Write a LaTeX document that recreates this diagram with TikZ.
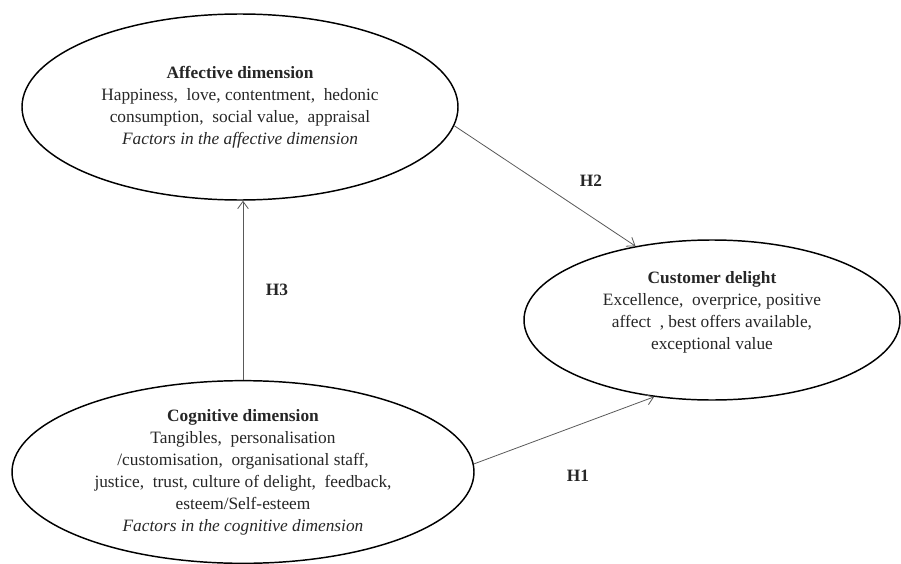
\documentclass[tikz,border=0pt]{standalone}
\usepackage{fontspec}
\setmainfont{Liberation Serif}
\usetikzlibrary{shapes.geometric,arrows.meta}
\tikzset{
  dimbox/.style={draw,ellipse,line width=1.1pt,inner sep=0pt,align=center,
    text=black!85,font=\fontsize{13}{16.5}\selectfont},
  hlink/.style={-{Straight Barb[length=5.5pt,width=8pt]},line width=0.6pt,draw=black!65},
  hlabel/.style={font=\fontsize{13}{14}\selectfont\bfseries,text=black!85}
}
\begin{document}
\begin{tikzpicture}[x=0.75pt,y=-0.75pt]
\useasboundingbox (0,0) rectangle (901,564);
\node[dimbox,minimum width=327pt,minimum height=139.5pt] (aff) at (240,107)
  {\textbf{Affective dimension}\\
   Happiness, \ love, contentment, \ hedonic\\
   consumption, \ social value, \ appraisal\\
   \textit{Factors in the affective dimension}};
\node[dimbox,minimum width=282pt,minimum height=120pt,text depth=14pt] (cust) at (712,320)
  {\textbf{Customer delight}\\
   Excellence, \ overprice, positive\\
   affect \ , best offers available,\\
   exceptional value};
\node[dimbox,minimum width=346.5pt,minimum height=137pt] (cog) at (243,472)
  {\textbf{Cognitive dimension}\\
   Tangibles, \ personalisation\\
   /customisation, \ organisational staff,\\
   justice, \ trust, culture of delight, \ feedback,\\
   esteem/Self-esteem\\
   \textit{Factors in the cognitive dimension}};
% hypotheses
\draw[hlink] (cog.north) -- (cog.north |- aff.south);
\draw[hlink] (aff.-5) -- (cust.136);
\draw[hlink] (cog.2) -- (cust.233);
\node[hlabel] (h3) at (277,290) {H3};
\node[hlabel] (h2) at (591,181) {H2};
\node[hlabel] (h1) at (578,476) {H1};
\end{tikzpicture}
\end{document}
